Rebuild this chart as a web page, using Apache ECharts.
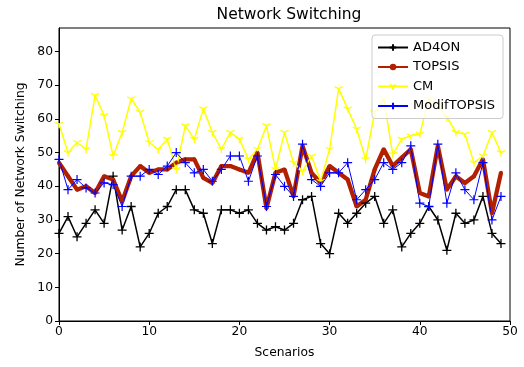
<!DOCTYPE html>
<html>
<head>
<meta charset="utf-8">
<script src="https://cdn.jsdelivr.net/npm/echarts@6/dist/echarts.min.js"></script>
<style>html,body{margin:0;padding:0;background:#fff}#c{width:524px;height:367px}</style>
</head>
<body>
<div id="c"></div>
<script>
const scenarios = Array.from({length: 50}, (_, i) => i);
const ad4on = [26,31,25,29,33,29,43,27,34,22,26,32,34,39,39,33,32,23,33,33,32,33,29,27,28,27,29,36,37,23,20,32,29,32,35,37,29,33,22,26,29,34,30,21,32,29,30,37,26,23];
const topsis = [47,43,39,40,38,43,42,35.5,43,46,44,45,45,47,48,48,42.5,41,46,46,45,44,50,33.5,44,45,37,52,44,41,46,44,42,34,36,45,51,46,48.5,51,38,37,52,39,43,41,43,48,32,44];
const cm = [58.5,50,53,51,67,61,49,56,66,62,53,51,54,45,58,54,63,56,51,56,54,48,51,58,45,56,47,44.5,49,41.5,51,69,63,57,48,62,66,49.5,54,55,55.5,66,64,60.5,56,55.5,47,49,56,50];
const modif = [48,39,42,39.5,38,41,40.5,34,43,43,45,43.5,46,50,47,44,45,41.5,45,49,49,41.5,49,34,43.5,40,37,52.5,42,40,44,44,47,36,39,42,47,45,47,52,35,34,52.5,35,44,39,36,47,30,37];
const xTicks = [0,10,20,30,40,50];
const yTicks = [0,10,20,30,40,50,60,70,80];

const plus = 'path://M0,5L10,5M5,0L5,10';
const tri = 'path://M5,5L5,10M5,5L0.67,2.5M5,5L9.33,2.5M5,0L5,0.01';
const font = 'DejaVu Sans';

function pts(arr){ return arr.map((v,i)=>[scenarios[i], v]); }

const chart = echarts.init(document.getElementById('c'), null, {renderer:'canvas'});
chart.setOption({
  animation: false,
  backgroundColor: '#fff',
  title: {
    text: 'Network Switching', left: 284, top: 2, textAlign: 'center',
    textStyle: {fontFamily: font, fontSize: 15.5, fontWeight: 'normal', color: '#000'}
  },
  grid: {left: 59, right: 14, top: 28, bottom: 46, show: true, borderColor: '#000', borderWidth: 1, backgroundColor: 'transparent'},
  legend: {
    orient: 'vertical', right: 21, top: 35,
    backgroundColor: 'rgba(255,255,255,0.8)', borderColor: '#cccccc', borderWidth: 1, borderRadius: 3,
    padding: [6, 8, 6, 5], itemGap: 6.5, itemWidth: 30, itemHeight: 8,
    textStyle: {fontFamily: font, fontSize: 13, color: '#000'},
    data: ['AD4ON','TOPSIS','CM','ModifTOPSIS']
  },
  xAxis: {
    type: 'value', min: 0, max: 50, interval: 10,
    name: 'Scenarios', nameLocation: 'middle', nameGap: 26,
    nameTextStyle: {fontFamily: font, fontSize: 12.3, color: '#000'},
    axisLine: {show: true, onZero: false, lineStyle: {color: '#000', width: 1}},
    axisTick: {show: true, length: 4, lineStyle: {color: '#000'}},
    axisLabel: {fontFamily: font, fontSize: 12.3, color: '#000', margin: 5,
      formatter: v => xTicks.includes(v) ? String(v) : ''},
    splitLine: {show: false}
  },
  yAxis: {
    type: 'value', min: 0, max: 87, interval: 10,
    name: 'Number of Network Switching', nameLocation: 'middle', nameGap: 32,
    nameTextStyle: {fontFamily: font, fontSize: 12.3, color: '#000'},
    axisLine: {show: true, onZero: false, lineStyle: {color: '#000', width: 1}},
    axisTick: {show: true, length: 4, lineStyle: {color: '#000'}},
    axisLabel: {fontFamily: font, fontSize: 12.3, color: '#000', margin: 6, showMaxLabel: false,
      formatter: v => yTicks.includes(v) ? String(v) : ''},
    splitLine: {show: false}
  },
  series: [
    {name: 'AD4ON', type: 'line', data: pts(ad4on), symbol: plus, symbolSize: 9,
     lineStyle: {color: '#000', width: 1.5}, itemStyle: {color: '#000', borderColor: '#000', borderWidth: 1.3}},
    {name: 'TOPSIS', type: 'line', data: pts(topsis), symbol: 'circle', symbolSize: 4,
     lineStyle: {color: '#b32000', width: 4.3}, itemStyle: {color: '#b32000', borderWidth: 0}},
    {name: 'CM', type: 'line', data: pts(cm), symbol: tri, symbolSize: 8,
     lineStyle: {color: '#ffff00', width: 1.5}, itemStyle: {color: '#ffff00', borderColor: '#ffff00', borderWidth: 1.3}},
    {name: 'ModifTOPSIS', type: 'line', data: pts(modif), symbol: plus, symbolSize: 9,
     lineStyle: {color: '#0000ff', width: 1}, itemStyle: {color: '#0000ff', borderColor: '#0000ff', borderWidth: 1.2}}
  ]
});
</script>
</body>
</html>
